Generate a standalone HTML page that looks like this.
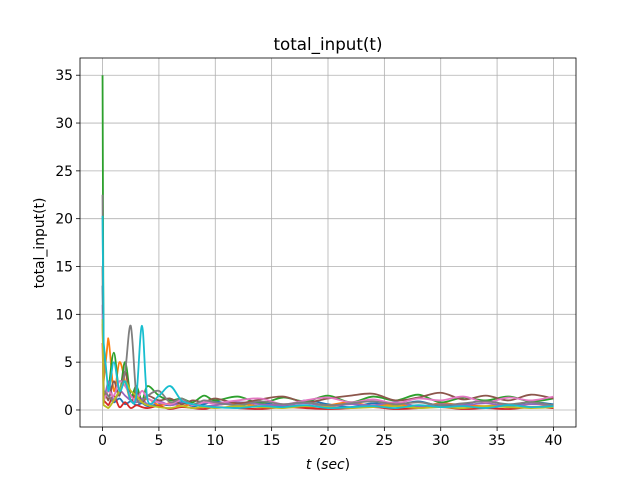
<!DOCTYPE html>
<html><head><meta charset="utf-8"><style>
body{margin:0;background:#fff;}
svg{display:block;font-family:"DejaVu Sans","Liberation Sans",sans-serif;}
</style></head><body>
<svg id="chart" width="640" height="480">
<text x="328" y="50" text-anchor="middle" font-size="16.7">total_input(t)</text>
<text transform="translate(44,243) rotate(-90)" text-anchor="middle" font-size="13.9">total_input(t)</text>
<text x="328" y="469" text-anchor="middle" font-size="13.9"><tspan font-style="italic">t</tspan> (<tspan font-style="italic">sec</tspan>)</text>
<g id="grid"></g><g id="series"></g><g id="axes"></g>
</svg>
<script>
const times=[0,0.1,0.5,1,1.5,2,2.5,3,3.5,4,5,6,7,8,9,10,12,14,16,18,20,22,24,26,28,30,32,34,36,38,40];
const s0=[13,2,1.5,0.8,1.2,0.6,0.9,0.5,0.7,0.4,0.6,0.5,0.8,0.4,0.6,0.9,0.5,0.8,0.4,1.0,0.6,0.3,0.7,0.5,0.9,0.4,0.6,1.0,0.5,0.8,0.6];
const s1=[9,3,7.5,2,5,3,1,1.5,0.8,1.2,0.5,0.7,0.4,0.6,0.3,0.5,0.7,0.4,0.6,0.3,0.5,0.8,0.4,0.6,0.3,0.7,0.5,0.4,0.6,0.3,0.5];
const s2=[35,1,2,6,2,5,1.5,2.5,1,2.5,1.5,1,1.2,0.8,1.5,1,1.4,0.7,1.3,0.9,1.5,0.8,1.4,1,1.6,0.8,1.3,1,1.4,0.9,1.2];
const s3=[7,1,0.5,1.5,0.3,0.8,0.2,0.5,0.3,0.2,0.4,0.1,0.3,0.2,0.1,0.3,0.2,0.1,0.3,0.2,0.1,0.2,0.3,0.1,0.2,0.3,0.1,0.2,0.1,0.3,0.2];
const s4=[11,1,3,1,2,1.5,1,0.8,1.2,0.6,0.9,0.5,0.7,0.6,0.4,0.5,0.8,0.6,0.5,0.7,0.4,0.6,0.5,0.8,0.4,0.6,0.5,0.7,0.4,0.6,0.5];
const s5=[15,2,1,3,1.5,4,1,2,0.8,1.5,1,1.2,0.6,1,0.8,1.2,0.7,1.1,1.4,0.8,1.2,1.5,1.7,1,1.3,1.8,1.1,1.5,1,1.6,1.2];
const s6=[10,1,2,1.5,3,2.5,1.5,1,2,1.2,0.8,0.6,1,0.5,0.8,0.7,1,1.2,0.6,1,1.3,0.8,1.1,0.7,1.2,1,1.4,0.8,1.3,1,1.4];
const s7=[22.5,2,1.5,1,2,4,8.8,1.5,1,1.5,2,0.8,1.2,0.6,1,0.8,0.5,0.9,0.6,0.8,0.5,0.7,0.9,0.6,0.8,0.5,0.7,0.9,0.6,0.8,0.5];
const s8=[9.5,0.5,0.2,1,2,3,2,1.5,0.8,0.5,0.3,0.2,0.4,0.2,0.3,0.2,0.4,0.3,0.2,0.4,0.3,0.2,0.3,0.4,0.2,0.3,0.2,0.4,0.3,0.2,0.3];
const s9=[20.3,7,2,5,2,3,1,1.5,8.8,1,1.5,2.5,1,0.6,0.4,0.3,0.2,0.4,0.3,0.5,0.2,0.3,0.4,0.2,0.5,0.3,0.4,0.2,0.5,0.3,0.4];
const xTicks=[0,5,10,15,20,25,30,35,40];
const yTicks=[0,5,10,15,20,25,30,35];
const allSeries=[s0,s1,s2,s3,s4,s5,s6,s7,s8,s9];
const colors=['#1f77b4','#ff7f0e','#2ca02c','#d62728','#9467bd','#8c564b','#e377c2','#7f7f7f','#bcbd22','#17becf'];
const L=80,R=576,T=58,B=427;
const xMin=-2,xMax=42,yMin=-1.78,yMax=36.8;
function X(v){return L+(v-xMin)/(xMax-xMin)*(R-L);}
function Y(v){return B-(v-yMin)/(yMax-yMin)*(B-T);}
const NS='http://www.w3.org/2000/svg';
const grid=document.getElementById('grid'),axes=document.getElementById('axes'),ser=document.getElementById('series');
function mk(tag,attrs,parent){const e=document.createElementNS(NS,tag);for(const k in attrs)e.setAttribute(k,attrs[k]);parent.appendChild(e);return e;}
xTicks.forEach(t=>{
 const g=mk('line',{x1:X(t),x2:X(t),y1:T,y2:B,stroke:'#b0b0b0','stroke-width':0.8},grid);
 
 
 mk('line',{x1:X(t),x2:X(t),y1:B,y2:B+4,stroke:'#000','stroke-width':0.8},axes);
 const tx=mk('text',{x:X(t),y:B+18,'text-anchor':'middle','font-size':13.9},axes);
 tx.textContent=t;
 
 
});
yTicks.forEach(t=>{
 const g=mk('line',{x1:L,x2:R,y1:Y(t),y2:Y(t),stroke:'#b0b0b0','stroke-width':0.8},grid);
 
 
 mk('line',{x1:L-4,x2:L,y1:Y(t),y2:Y(t),stroke:'#000','stroke-width':0.8},axes);
 const tx=mk('text',{x:L-7,y:Y(t)+5,'text-anchor':'end','font-size':13.9},axes);
 tx.textContent=t;
 
 
});
const fr=mk('rect',{x:L,y:T,width:R-L,height:B-T,fill:'none',stroke:'#000','stroke-width':0.8},axes);


const yFloor=Y(0);
allSeries.forEach((s,i)=>{
 const pts=s.map((v,j)=>[X(times[j]),Y(v)]);
 let d='M'+pts[0][0]+','+pts[0][1];
 for(let j=0;j<pts.length-1;j++){
  const p0=pts[Math.max(0,j-1)],p1=pts[j],p2=pts[j+1],p3=pts[Math.min(pts.length-1,j+2)];
  const k=(j===0||j===1)?0:1/6;
  const c1=[p1[0]+(p2[0]-p0[0])*k,Math.min(yFloor,p1[1]+(p2[1]-p0[1])*k)];
  const c2=[p2[0]-(p3[0]-p1[0])*k,Math.min(yFloor,p2[1]-(p3[1]-p1[1])*k)];
  d+=' C'+c1+' '+c2+' '+p2;
 }
 const p=mk('path',{d:d,fill:'none',stroke:colors[i],'stroke-width':1.8,'stroke-linejoin':'round'},ser);
 
 
});
</script>
</body></html>
